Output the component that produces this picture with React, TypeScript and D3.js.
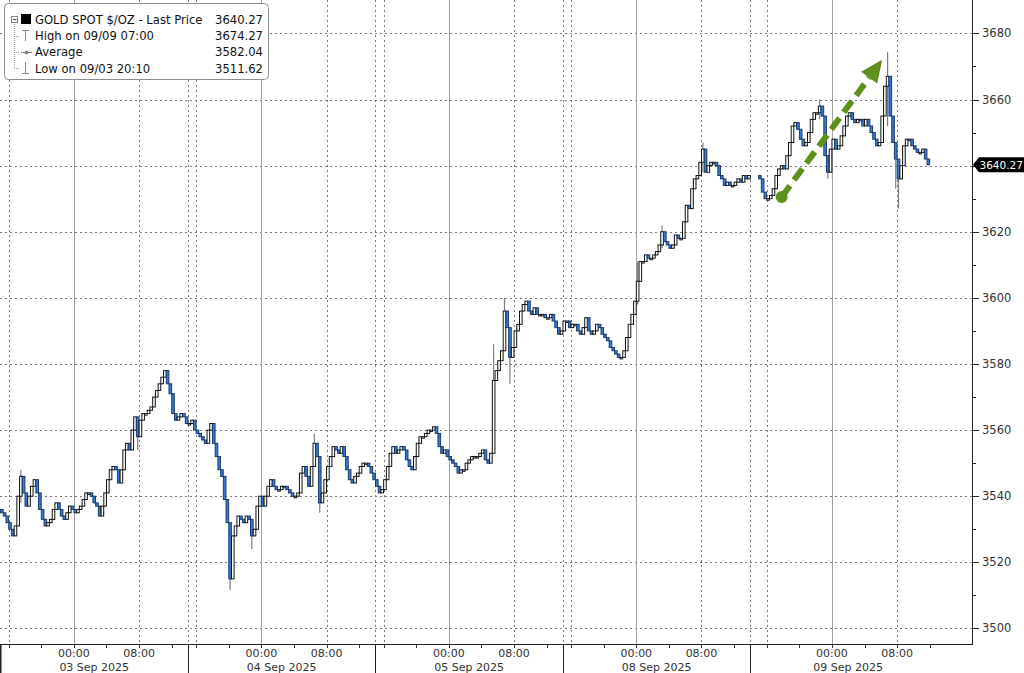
import React from "react";
import * as d3 from "d3";

// ---------- DATA ----------
const dayLabels = ["03 Sep 2025", "04 Sep 2025", "05 Sep 2025", "08 Sep 2025", "09 Sep 2025"];
// session open, relative to 00:00 of the date (hours): 15:00 / 14:00 of the prior day
const sessionOpenHour = [-9, -9, -9, -9, -10];
const sessionHours = [23, 23, 23, 23, 24];
const firstBarOffset = [0, 0, 0, 0, 1]; // hours after session open where bars begin
const barMinutes = 20;

const yTicks = [3500, 3520, 3540, 3560, 3580, 3600, 3620, 3640, 3660, 3680];
const yMinorTicks = [3510, 3530, 3550, 3570, 3590, 3610, 3630, 3650, 3670];

const firstOpen = 3536;
const close03 = [
  3535, 3534, 3532, 3530, 3528, 3531, 3540, 3546, 3541, 3537, 3540, 3543, 3545, 3541, 3536, 3533,
  3531, 3532, 3533, 3536, 3538, 3536, 3534, 3533, 3535, 3537, 3536, 3535, 3536, 3537, 3539, 3541,
  3541, 3540, 3538, 3537, 3534, 3537, 3541, 3545, 3548, 3549, 3548, 3544, 3548, 3554, 3556, 3554,
  3560, 3564, 3558, 3563, 3565, 3565, 3566, 3567, 3570, 3572, 3574, 3576, 3578, 3574, 3571, 3565,
  3563, 3564, 3565, 3564, 3562,
];
const close04 = [
  3562, 3563, 3560, 3559, 3558, 3557, 3556, 3560, 3562, 3556, 3552, 3548, 3546, 3539, 3532, 3515,
  3528, 3531, 3534, 3533, 3532, 3534, 3533, 3528, 3530, 3537, 3540, 3537, 3540, 3543, 3545, 3543,
  3542, 3542, 3543, 3543, 3542, 3541, 3540, 3540, 3541, 3547, 3549, 3546, 3543, 3549, 3556, 3552,
  3538, 3541, 3545, 3549, 3552, 3555, 3554, 3553, 3555, 3552, 3548, 3545, 3544, 3546, 3547, 3549,
  3550, 3550, 3549, 3547, 3545,
];
const close05 = [
  3543, 3541, 3542, 3545, 3549, 3553, 3555, 3553, 3554, 3555, 3554, 3551, 3549, 3548, 3552, 3556,
  3558, 3558, 3559, 3560, 3560, 3561, 3559, 3555, 3553, 3554, 3552, 3551, 3550, 3549, 3547, 3548,
  3548, 3550, 3551, 3552, 3552, 3552, 3553, 3554, 3551, 3550, 3553, 3575, 3578, 3581, 3584, 3596,
  3591, 3582, 3585, 3590, 3592, 3596, 3598, 3599, 3596, 3595, 3597, 3595, 3595, 3595, 3594, 3594,
  3595, 3593, 3591, 3589, 3590,
];
const close08 = [
  3593, 3593, 3591, 3592, 3592, 3590, 3589, 3591, 3594, 3590, 3589, 3590, 3592, 3591, 3589, 3588,
  3587, 3585, 3584, 3583, 3582, 3582, 3584, 3588, 3592, 3595, 3599, 3605, 3611, 3611, 3613, 3612,
  3612, 3613, 3614, 3616, 3620, 3617, 3616, 3615, 3616, 3619, 3618, 3618, 3623, 3628, 3627, 3633,
  3636, 3637, 3641, 3645, 3638, 3640, 3641, 3641, 3640, 3637, 3636, 3634, 3635, 3634, 3634, 3635,
  3636, 3635, 3637, 3636, 3637,
];
const close09 = [
  3636, 3632, 3630, 3630, 3631, 3633, 3637, 3639, 3640, 3639, 3643, 3647, 3652, 3653, 3651, 3648,
  3646, 3647, 3650, 3654, 3656, 3656, 3658, 3655, 3643, 3638, 3645, 3648, 3645, 3646, 3649, 3652,
  3655, 3656, 3654, 3653, 3654, 3654, 3652, 3654, 3652, 3650, 3648, 3646, 3647, 3655, 3664, 3667,
  3655, 3647, 3642, 3636, 3640, 3646, 3648, 3648, 3646, 3645, 3644, 3644, 3645, 3642, 3640.27,
];
const dayCloses = [close03, close04, close05, close08, close09];

// wick extremes: [day, bar, high, low]
const wickDay = [0, 0, 1, 1, 1, 1, 2, 2, 2, 3, 3, 3, 4, 4, 4, 4, 4];
const wickBar = [7, 50, 15, 23, 46, 48, 43, 47, 49, 27, 36, 51, 22, 25, 47, 50, 51];
const wickHigh = [3548, 3564, 3532, 3531, 3559, 3552, 3586, 3600, 3591, 3611, 3622, 3647, 3660, 3643, 3674.27, 3647, 3641];
const wickLow = [3538, 3554, 3511.62, 3524, 3549, 3535, 3572, 3589, 3574, 3598, 3615, 3638, 3654, 3636, 3652, 3633, 3627];

const lastPrice = 3640.27;
const legendRows = [
  { label: "GOLD SPOT $/OZ - Last Price", value: "3640.27" },
  { label: "High on 09/09 07:00", value: "3674.27" },
  { label: "Average", value: "3582.04" },
  { label: "Low on 09/03 20:10", value: "3511.62" },
];
const trendFrom = { day: 4, bar: 8, value: 3630.5 };
const trendTo = { day: 4, bar: 45, value: 3672 };

// ---------- LAYOUT ----------
const W = 1024;
const H = 673;
const plotRight = 972;
const plotBottom = 644;
const FONT = "'DejaVu Sans', Verdana, sans-serif";

const dayStart: number[] = [];
{
  let acc = 0;
  sessionHours.forEach((h) => {
    dayStart.push(acc);
    acc += h;
  });
}
const totalHours = 119;
const x = d3.scaleLinear().domain([0, totalHours]).range([0.5, 0.5 + totalHours * 8.151]);
const y = d3.scaleLinear().domain([3495.3, 3690.1]).range([plotBottom, 0]);

const tOf = (day: number, hourOfDate: number) => dayStart[day] + (hourOfDate - sessionOpenHour[day]);
const barT = (day: number, i: number) => dayStart[day] + firstBarOffset[day] + ((i + 0.5) * barMinutes) / 60;

type Bar = { t: number; o: number; c: number; h: number; l: number };
const bars: Bar[] = [];
{
  let prev = firstOpen;
  dayCloses.forEach((arr, d) => {
    arr.forEach((c, i) => {
      const o = prev;
      let h = Math.max(o, c);
      let l = Math.min(o, c);
      for (let k = 0; k < wickDay.length; k++) {
        if (wickDay[k] === d && wickBar[k] === i) {
          h = Math.max(h, wickHigh[k]);
          l = Math.min(l, wickLow[k]);
        }
      }
      bars.push({ t: barT(d, i), o, c, h, l });
      prev = c;
    });
  });
}

export default function App() {
  const dotted = "2,3";
  const gridColor = "#7a7a7a";

  const midnight = dayLabels.map((_, d) => tOf(d, 0));
  const eight = dayLabels.map((_, d) => tOf(d, 8));
  const sixteen = dayLabels.map((_, d) => tOf(d, sessionOpenHour[d] + (d === 4 ? 2 : 1)));
  const separators = dayStart.slice(1);
  const fourHourTicks: number[] = [];
  dayLabels.forEach((_, d) => {
    for (let hr = -8; hr <= 12; hr += 4) {
      const t = tOf(d, hr);
      if (t > dayStart[d] && t < dayStart[d] + sessionHours[d]) fourHourTicks.push(t);
    }
  });

  const bw = 2.6;
  const p0 = { x: x(barT(trendFrom.day, trendFrom.bar)), y: y(trendFrom.value) };
  const p1 = { x: x(barT(trendTo.day, trendTo.bar)), y: y(trendTo.value) };
  const dx = p1.x - p0.x;
  const dy = p1.y - p0.y;
  const len = Math.hypot(dx, dy);
  const ux = dx / len;
  const uy = dy / len;
  const headL = 22;
  const headW = 10;
  const bx = p1.x - ux * headL;
  const by = p1.y - uy * headL;
  const head = [
    [p1.x, p1.y],
    [bx + -uy * headW, by + ux * headW],
    [bx - -uy * headW, by - ux * headW],
  ];

  const yLast = y(lastPrice);

  return (
    <div style={{ position: "absolute", left: 0, top: 0, width: W, height: H, background: "#fff" }}>
      <svg width={W} height={H} style={{ display: "block", fontFamily: FONT }}>
        <rect x={0} y={0} width={W} height={H} fill="#fff" />
        {/* horizontal gridlines */}
        {yTicks.map((v) => (
          <line key={"hg" + v} x1={0} x2={plotRight} y1={Math.round(y(v)) + 0.5} y2={Math.round(y(v)) + 0.5}
            stroke={gridColor} strokeDasharray={dotted} />
        ))}
        {/* vertical dotted gridlines */}
        {[...eight, ...sixteen, ...separators].map((t, i) => (
          <line key={"vg" + i} x1={Math.round(x(t)) + 0.5} x2={Math.round(x(t)) + 0.5} y1={0} y2={plotBottom}
            stroke={gridColor} strokeDasharray={dotted} />
        ))}
        {/* midnight solid lines */}
        {midnight.map((t, i) => (
          <line key={"mn" + i} x1={Math.round(x(t)) + 0.5} x2={Math.round(x(t)) + 0.5} y1={0} y2={plotBottom}
            stroke="#a0a0a0" strokeWidth={1} />
        ))}

        {/* wicks */}
        {bars.map((b, i) => (
          <line key={"w" + i} x1={x(b.t)} x2={x(b.t)} y1={y(b.h)} y2={y(b.l)} stroke="#7d7d7d" strokeWidth={1.2} />
        ))}
        {/* bodies */}
        {bars.map((b, i) => {
          const up = b.c >= b.o;
          const top = y(Math.max(b.o, b.c));
          const hgt = Math.max(1.5, y(Math.min(b.o, b.c)) - top);
          return (
            <rect key={"b" + i} x={x(b.t) - bw / 2} y={top} width={bw} height={hgt}
              fill={up ? "#ffffff" : "#3a7bd2"} stroke={up ? "#111" : "#1b3a6a"} strokeWidth={1} />
          );
        })}

        {/* green trend arrow */}
        <line x1={p0.x} y1={p0.y} x2={bx} y2={by} stroke="#5f901c" strokeWidth={6}
          strokeDasharray="14,7" />
        <circle cx={p0.x} cy={p0.y} r={6} fill="#5f901c" />
        <polygon points={head.map((p) => p.join(",")).join(" ")} fill="#5f901c" />

        {/* right axis */}
        <line x1={plotRight + 0.5} x2={plotRight + 0.5} y1={0} y2={plotBottom + 1} stroke="#222" />
        {yTicks.map((v) => (
          <g key={"yt" + v}>
            <line x1={plotRight} x2={plotRight + 7} y1={Math.round(y(v)) + 0.5} y2={Math.round(y(v)) + 0.5} stroke="#222" />
            {Math.abs(y(v) - y(lastPrice)) > 10 && (
              <text x={plotRight + 10} y={y(v) + 4} fontSize={11.5} fill="#333">{v}</text>
            )}
          </g>
        ))}
        {yMinorTicks.map((v) => (
          <line key={"ym" + v} x1={plotRight} x2={plotRight + 4} y1={Math.round(y(v)) + 0.5} y2={Math.round(y(v)) + 0.5} stroke="#222" />
        ))}
        {/* last price tag */}
        <polygon points={`${plotRight + 1},${yLast} ${plotRight + 7},${yLast - 7.5} ${W},${yLast - 7.5} ${W},${yLast + 7.5} ${plotRight + 7},${yLast + 7.5}`} fill="#000" />
        <text x={plotRight + 7.5} y={yLast + 4} fontSize={10.5} fill="#fff">{lastPrice.toFixed(2)}</text>

        {/* bottom axis */}
        <line x1={0} x2={plotRight + 1} y1={plotBottom + 0.5} y2={plotBottom + 0.5} stroke="#222" />
        <line x1={0.5} x2={0.5} y1={plotBottom} y2={H} stroke="#222" strokeWidth={2} />
        {separators.map((t, i) => (
          <line key={"sep" + i} x1={Math.round(x(t)) + 0.5} x2={Math.round(x(t)) + 0.5} y1={plotBottom} y2={H} stroke="#222" />
        ))}
        {fourHourTicks.map((t, i) => (
          <line key={"ft" + i} x1={Math.round(x(t)) + 0.5} x2={Math.round(x(t)) + 0.5} y1={plotBottom} y2={plotBottom + 4} stroke="#333" />
        ))}
        {midnight.map((t, i) => (
          <text key={"l0" + i} x={x(t)} y={657} fontSize={11} fill="#333" textAnchor="middle">00:00</text>
        ))}
        {eight.map((t, i) => (
          <text key={"l8" + i} x={x(t)} y={657} fontSize={11} fill="#333" textAnchor="middle">08:00</text>
        ))}
        {dayLabels.map((lab, d) => (
          <text key={"dl" + d} x={x(dayStart[d] + sessionHours[d] / 2)} y={671} fontSize={11} fill="#333" textAnchor="middle">{lab}</text>
        ))}

        {/* legend */}
        <rect x={4.5} y={3.5} width={264} height={76} rx={4} fill="#fff" stroke="#8c8c8c" />
        <line x1={14.5} x2={14.5} y1={24} y2={68} stroke="#999" strokeDasharray="1,1" />
        {[36, 52, 68].map((yy) => (
          <line key={"tr" + yy} x1={14} x2={20} y1={yy + 0.5} y2={yy + 0.5} stroke="#999" strokeDasharray="1,1" />
        ))}
        <rect x={11.5} y={16.5} width={6} height={6} fill="#fff" stroke="#888" />
        <line x1={13} x2={16.5} y1={19.5} y2={19.5} stroke="#555" />
        <rect x={21} y={14} width={10} height={10} fill="#000" />
        {/* high icon */}
        <line x1={22} x2={29} y1={30.5} y2={30.5} stroke="#888" />
        <line x1={25.5} x2={25.5} y1={30} y2={41} stroke="#888" />
        {/* average icon */}
        <line x1={21} x2={32} y1={52.5} y2={52.5} stroke="#888" />
        <circle cx={26.5} cy={52.5} r={2} fill="#888" />
        {/* low icon */}
        <line x1={25.5} x2={25.5} y1={62} y2={73} stroke="#888" />
        <line x1={22} x2={29} y1={73.5} y2={73.5} stroke="#888" />
        {legendRows.map((r, i) => (
          <g key={"lg" + i}>
            <text x={35} y={24 + i * 16.2} fontSize={11.6} fill="#111">{r.label}</text>
            <text x={263} y={24 + i * 16.2} fontSize={11.6} fill="#111" textAnchor="end">{r.value}</text>
          </g>
        ))}
      </svg>
    </div>
  );
}
